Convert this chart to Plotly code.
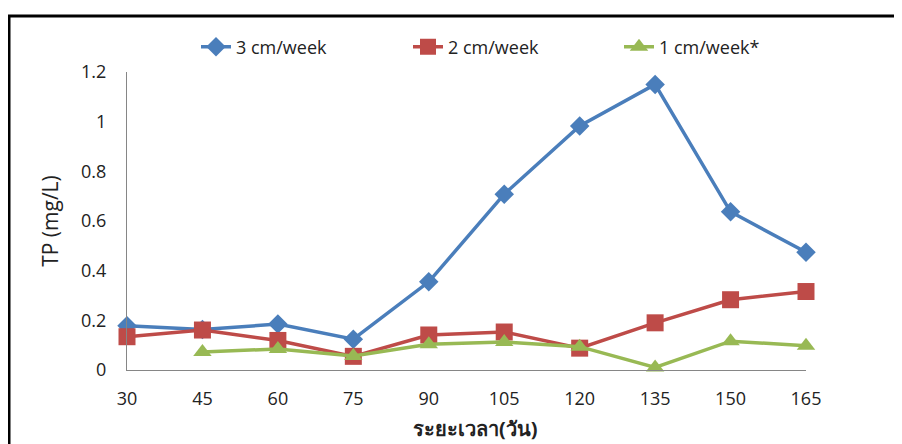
import plotly.graph_objects as go

days = ["30", "45", "60", "75", "90", "105", "120", "135", "150", "165"]
tp_3cm = [0.178, 0.163, 0.185, 0.124, 0.355, 0.708, 0.983, 1.150, 0.637, 0.474]
tp_2cm = [0.134, 0.161, 0.119, 0.055, 0.141, 0.153, 0.088, 0.190, 0.283, 0.316]
tp_1cm = [None, 0.072, 0.085, 0.056, 0.104, 0.113, 0.094, 0.010, 0.116, 0.098]

series_names = ["3 cm/week", "2 cm/week", "1 cm/week*"]
colors = ["#4A7EBB", "#BE4B48", "#98B954"]
symbols = ["diamond", "square", "triangle-up"]
sizes = [15, 17, 16]
legend_ids = ["legend", "legend2", "legend3"]
legend_px = [196, 408, 619]
x_title = "ระยะเวลา(วัน)"
y_title = "TP (mg/L)"

# page has an 8px body margin; compensate so the plot lands where the reference has it
OFF = 8
W, H = 902 - OFF, 444 - OFF
L, R, T, B = 127, 806, 72, 370  # page pixel positions of the plot area


def px_x(p):
    return (p - L) / (R - L)


def px_y(p):
    return (B - p) / (B - T)


font_main = "Open Sans, Noto Sans, sans-serif"

fig = go.Figure()
for name, vals, c, s, sz, lg in zip(series_names, [tp_3cm, tp_2cm, tp_1cm], colors, symbols, sizes, legend_ids):
    fig.add_trace(go.Scatter(
        x=days, y=vals, name=name, mode="lines+markers",
        line=dict(color=c, width=3.5),
        marker=dict(symbol=s, size=sz, color=c),
        cliponaxis=False, legend=lg,
    ))

legend_cfg = {}
for lg, xp in zip(legend_ids, legend_px):
    legend_cfg[lg] = dict(
        orientation="h", x=px_x(xp), xanchor="left",
        y=px_y(47), yanchor="middle",
        font=dict(size=18, family=font_main, color="#222"),
        bgcolor="rgba(0,0,0,0)",
    )

fig.update_layout(
    width=W, height=H,
    margin=dict(l=L - OFF, r=W - (R - OFF), t=T - OFF, b=H - (B - OFF), autoexpand=False),
    paper_bgcolor="white", plot_bgcolor="white",
    font=dict(family=font_main, size=16, color="#222"),
    showlegend=True,
    xaxis=dict(
        type="category", range=[0, 9], automargin=False,
        showgrid=False, zeroline=False,
        showline=True, linecolor="#868686", linewidth=1,
        ticks="", ticklabelstandoff=12,
        tickfont=dict(size=18),
    ),
    yaxis=dict(
        range=[0, 1.2], dtick=0.2, automargin=False,
        showgrid=False, zeroline=False,
        showline=True, linecolor="#868686", linewidth=1,
        ticks="", ticklabelstandoff=16,
        tickfont=dict(size=18),
        tickformat="~g",
        title=dict(text=y_title, font=dict(size=21), standoff=16),
    ),
    annotations=[dict(
        text="<b>" + x_title + "</b>", xref="paper", yref="paper",
        x=px_x(476), y=px_y(428), xanchor="center", yanchor="middle",
        showarrow=False,
        font=dict(size=20, family="Noto Sans, DejaVu Sans, sans-serif", color="#222"),
    )],
    shapes=[dict(
        type="rect", xref="paper", yref="paper", layer="above",
        x0=px_x(9), x1=px_x(915), y0=px_y(460), y1=px_y(16),
        line=dict(color="black", width=3), fillcolor="rgba(0,0,0,0)",
    )],
    **legend_cfg,
)

fig.write_html("out.html")
